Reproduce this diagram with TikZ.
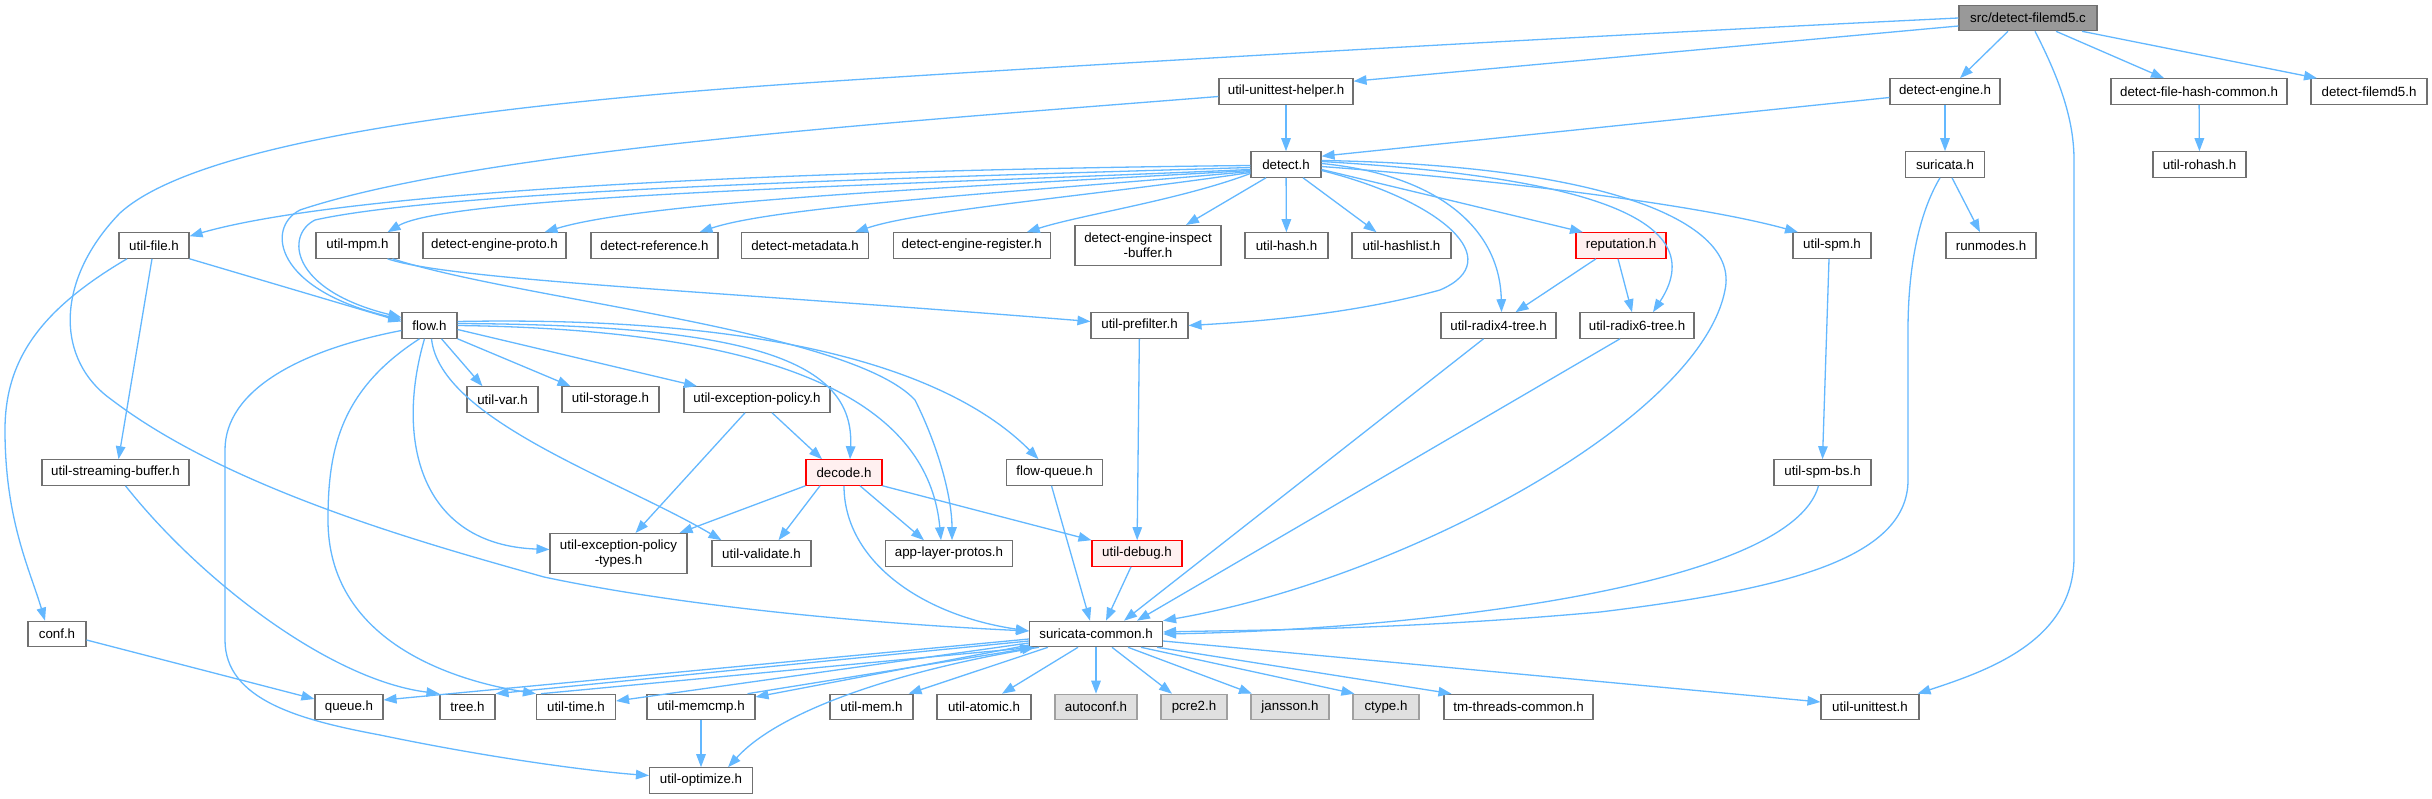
\documentclass[tikz,border=0pt]{standalone}
\usepackage{fontspec}
\setmainfont{Liberation Sans}
\usetikzlibrary{arrows.meta}
\definecolor{edgec}{HTML}{63B8FF}
\definecolor{bord}{HTML}{707070}
\definecolor{rootfill}{HTML}{999999}
\definecolor{extfill}{HTML}{E0E0E0}
\definecolor{extbord}{HTML}{A0A0A0}
\definecolor{redfill}{HTML}{FFF0F0}
\newcommand\nodefont{\fontsize{13.33}{15}\selectfont}
\begin{document}
\begin{tikzpicture}[x=1pt,y=-1pt,
  nd/.style={draw=bord, fill=white, line width=1.1pt, inner sep=0pt, minimum height=25.5pt, font=\nodefont, text=black},
  two/.style={minimum height=40pt, align=center},
  rootn/.style={fill=rootfill, draw=bord},
  extn/.style={fill=extfill, draw=extbord},
  redn/.style={fill=redfill, draw=red},
  e/.style={draw=edgec, line width=1.3pt, -{Triangle[length=13pt,width=9.5pt]}}]
\useasboundingbox[fill=white] (0,0) rectangle (2432,799);
% nodes
\node[nd,rootn,minimum width=138pt] (root) at (2028,18) {src/detect-filemd5.c};
\node[nd,minimum width=134pt] (uuh) at (1286,91.5) {util-unittest-helper.h};
\node[nd,minimum width=110pt] (deng) at (1945,91.5) {detect-engine.h};
\node[nd,minimum width=176pt] (dfhc) at (2199,91.5) {detect-file-hash-common.h};
\node[nd,minimum width=116pt] (dfmd5) at (2369,91.5) {detect-filemd5.h};
\node[nd,minimum width=70pt] (detect) at (1286,164.5) {detect.h};
\node[nd,minimum width=79pt] (suricata) at (1945,164.5) {suricata.h};
\node[nd,minimum width=93pt] (rohash) at (2199.5,164.5) {util-rohash.h};
\node[nd,minimum width=70pt] (ufile) at (154,245.5) {util-file.h};
\node[nd,minimum width=83pt] (mpm) at (357.5,245.5) {util-mpm.h};
\node[nd,minimum width=143pt] (dep) at (494.5,245.5) {detect-engine-proto.h};
\node[nd,minimum width=127pt] (dref) at (654.5,245.5) {detect-reference.h};
\node[nd,minimum width=127pt] (dmeta) at (805,245.5) {detect-metadata.h};
\node[nd,minimum width=157pt] (dreg) at (971.7,245.5) {detect-engine-register.h};
\node[nd,two,minimum width=146pt] (dinsp) at (1148,245.5) {detect-engine-inspect\\-buffer.h};
\node[nd,minimum width=83pt] (uhash) at (1286.5,245.5) {util-hash.h};
\node[nd,minimum width=99pt] (uhashlist) at (1401.5,245.5) {util-hashlist.h};
\node[nd,redn,minimum width=90pt] (rep) at (1621,245.5) {reputation.h};
\node[nd,minimum width=78pt] (uspm) at (1832,245.5) {util-spm.h};
\node[nd,minimum width=90pt] (runmodes) at (1991,245.5) {runmodes.h};
\node[nd,minimum width=55pt] (flow) at (429.5,325.5) {flow.h};
\node[nd,minimum width=97pt] (prefilter) at (1139.5,325.5) {util-prefilter.h};
\node[nd,minimum width=115pt] (radix4) at (1498.5,325.5) {util-radix4-tree.h};
\node[nd,minimum width=114pt] (radix6) at (1637,325.5) {util-radix6-tree.h};
\node[nd,minimum width=71pt] (uvar) at (502.5,399.5) {util-var.h};
\node[nd,minimum width=97pt] (ustorage) at (610.5,399.5) {util-storage.h};
\node[nd,minimum width=146pt] (uexc) at (757,399.5) {util-exception-policy.h};
\node[nd,minimum width=147pt] (usb) at (115.5,472.5) {util-streaming-buffer.h};
\node[nd,redn,minimum width=76pt] (decode) at (844,472.5) {decode.h};
\node[nd,minimum width=96pt] (fq) at (1054.5,472.5) {flow-queue.h};
\node[nd,minimum width=97pt] (spmbs) at (1822.5,472.5) {util-spm-bs.h};
\node[nd,two,minimum width=137pt] (uept) at (618.5,553.5) {util-exception-policy\\-types.h};
\node[nd,minimum width=99pt] (uval) at (761.5,553.5) {util-validate.h};
\node[nd,minimum width=127pt] (alp) at (949,553.5) {app-layer-protos.h};
\node[nd,redn,minimum width=90pt] (udebug) at (1137,553.5) {util-debug.h};
\node[nd,minimum width=58pt] (conf) at (57,634) {conf.h};
\node[nd,minimum width=133pt] (sc) at (1096,634) {suricata-common.h};
\node[nd,minimum width=68pt] (queue) at (349,707) {queue.h};
\node[nd,minimum width=55pt] (tree) at (467.5,707) {tree.h};
\node[nd,minimum width=79pt] (utime) at (576,707) {util-time.h};
\node[nd,minimum width=108pt] (memcmp) at (701,707) {util-memcmp.h};
\node[nd,minimum width=83pt] (umem) at (871.5,707) {util-mem.h};
\node[nd,minimum width=94pt] (uatomic) at (984,707) {util-atomic.h};
\node[nd,extn,minimum width=82pt] (autoconf) at (1096,707) {autoconf.h};
\node[nd,extn,minimum width=66pt] (pcre2) at (1194,707) {pcre2.h};
\node[nd,extn,minimum width=78pt] (jansson) at (1290,707) {jansson.h};
\node[nd,extn,minimum width=66pt] (ctype) at (1386,707) {ctype.h};
\node[nd,minimum width=149pt] (tmtc) at (1518.5,707) {tm-threads-common.h};
\node[nd,minimum width=98pt] (unittest) at (1870,707) {util-unittest.h};
\node[nd,minimum width=103pt] (uopt) at (701,780.5) {util-optimize.h};
% edges from root
\draw[e] (root.west) .. controls (1500,40) and (1000,70) .. (820,82)
  .. controls (500,103) and (200,140) .. (120,213)
  .. controls (55,280) and (55,360) .. (112,400)
  .. controls (230,490) and (430,545) .. (544,577)
  .. controls (700,610) and (900,625) .. ([yshift=3pt]sc.west);
\draw[e] ([yshift=-8pt]root.west) -- ([yshift=-3pt]uuh.north east);
\draw[e] ([xshift=-20pt]root.south) -- ([xshift=15pt]deng.north);
\draw[e] ([xshift=28pt]root.south) -- ([xshift=-35pt]dfhc.north);
\draw[e] ([xshift=54pt]root.south) -- ([xshift=-52pt]dfmd5.north);
\draw[e] ([xshift=7pt]root.south) .. controls (2060,80) and (2074,120) .. (2074,160) -- (2074,557)
  .. controls (2074,640) and (1990,670) .. ([xshift=-2pt]unittest.north east);
% util-unittest-helper.h
\draw[e] (uuh) -- (detect);
\draw[e] ([yshift=-5pt]uuh.west) .. controls (900,122) and (480,150) .. (300,210)
  .. controls (265,228) and (275,290) .. ([yshift=6pt]flow.west);
% detect.h
\draw[e] ([yshift=-3pt]detect.west) .. controls (900,178) and (450,190) .. (315,220)
  .. controls (285,235) and (290,290) .. ([yshift=8pt]flow.west);
\draw[e] ([yshift=-1pt]detect.west) .. controls (800,170) and (350,190) .. ([yshift=-4pt]ufile.north east);
\draw[e] ([yshift=-5pt]detect.west) .. controls (900,185) and (450,195) .. ([xshift=-12pt]mpm.north east);
\draw[e] ([yshift=-6pt]detect.west) .. controls (1000,185) and (650,200) .. ([xshift=50pt]dep.north);
\draw[e] ([yshift=-7pt]detect.west) .. controls (1050,190) and (780,205) .. ([xshift=45pt]dref.north);
\draw[e] ([yshift=-8pt]detect.west) .. controls (1100,195) and (920,210) .. ([xshift=50pt]dmeta.north);
\draw[e] ([yshift=-9pt]detect.west) .. controls (1180,200) and (1080,215) .. ([xshift=55pt]dreg.north);
\draw[e] ([xshift=-20pt]detect.south) -- ([xshift=38pt]dinsp.north);
\draw[e] (detect) -- (uhash);
\draw[e] ([xshift=17pt]detect.south) -- ([xshift=-25pt]uhashlist.north);
\draw[e] ([yshift=-5pt]detect.east) -- ([xshift=-38pt]rep.north);
\draw[e] ([yshift=-2pt]detect.east) .. controls (1500,180) and (1700,205) .. ([xshift=-34pt]uspm.north);
\draw[e] ([yshift=-6pt]detect.east) .. controls (1440,200) and (1510,260) .. (1440,290)
  .. controls (1350,315) and (1250,322) .. (prefilter.east);
\draw[e] ([yshift=1pt]detect.east) .. controls (1440,175) and (1500,230) .. ([xshift=3pt]radix4.north);
\draw[e] ([yshift=3pt]detect.east) .. controls (1550,175) and (1720,210) .. ([xshift=16pt]radix6.north);
\draw[e] ([yshift=4pt]detect.east) .. controls (1600,165) and (1740,220) .. (1725,290)
  .. controls (1700,420) and (1400,580) .. (sc.north east);
% detect-engine.h etc.
\draw[e] ([yshift=-6pt]deng.west) -- ([yshift=-5pt]detect.north east);
\draw[e] (deng) -- (suricata);
\draw[e] (dfhc) -- (rohash);
\draw[e] ([xshift=7pt]suricata.south) -- ([xshift=-11pt]runmodes.north);
\draw[e] ([xshift=-5pt]suricata.south) .. controls (1915,220) and (1908,280) .. (1908,330) -- (1908,480)
  .. controls (1908,560) and (1780,590) .. (1600,612)
  .. controls (1400,630) and (1250,630) .. ([yshift=2pt]sc.east);
\draw[e] ([xshift=-4pt]spmbs.south) .. controls (1790,590) and (1400,630) .. ([yshift=0pt]sc.east);
\draw[e] ([xshift=-3pt]uspm.south) -- (spmbs.north);
\draw[e] ([xshift=-25pt]rep.south) -- ([xshift=17pt]radix4.north);
\draw[e] ([xshift=-3pt]rep.south) -- ([xshift=-5pt]radix6.north);
\draw[e] ([xshift=-15pt]radix4.south) -- ([xshift=28pt]sc.north);
\draw[e] ([xshift=-17pt]radix6.south) -- ([xshift=41pt]sc.north);
\draw[e] (prefilter) -- (udebug);
\draw[e] ([xshift=-6pt]udebug.south) -- ([xshift=10pt]sc.north);
\draw[e] ([xshift=-3pt]fq.south) -- ([xshift=-6pt]sc.north);
% decode.h
\draw[e] (decode.south) .. controls (844,560) and (920,615) .. ([yshift=3pt]sc.west);
\draw[e] (decode.south west) -- ([xshift=-8pt]uept.north east);
\draw[e] ([xshift=-24pt]decode.south) -- ([xshift=17pt]uval.north);
\draw[e] ([xshift=16pt]decode.south) -- ([xshift=-25pt]alp.north);
\draw[e] (decode.south east) -- (udebug.north west);
\draw[e] ([xshift=-12pt]uexc.south) -- ([xshift=17pt]uept.north);
\draw[e] ([xshift=15pt]uexc.south) -- ([xshift=-22pt]decode.north);
% flow.h
\draw[e] ([xshift=12pt]flow.south) -- ([xshift=-20pt]uvar.north);
\draw[e] (flow.south east) -- ([xshift=-40pt]ustorage.north);
\draw[e] ([yshift=-4pt]flow.east) -- ([xshift=-60pt]uexc.north);
\draw[e] ([yshift=2pt]flow.east) .. controls (750,325) and (855,360) .. ([xshift=6pt]decode.north);
\draw[e] (flow.east) .. controls (820,330) and (930,420) .. ([xshift=-8pt]alp.north);
\draw[e] ([yshift=4pt]flow.east) .. controls (800,315) and (960,380) .. ([xshift=-16pt]fq.north);
\draw[e] ([xshift=-5pt]flow.south) .. controls (395,440) and (420,545) .. ([yshift=4pt]uept.west);
\draw[e] ([xshift=2pt]flow.south) .. controls (440,420) and (620,480) .. ([xshift=-40pt]uval.north);
\draw[e] ([xshift=-10pt]flow.south) .. controls (340,390) and (328,450) .. (328,520)
  .. controls (328,640) and (450,680) .. (utime.north west);
\draw[e] ([yshift=-5pt]flow.west) .. controls (300,350) and (225,390) .. (225,450) -- (225,640)
  .. controls (225,700) and (300,720) .. (380,735)
  .. controls (500,760) and (600,772) .. ([yshift=5pt]uopt.west);
% util-mpm.h
\draw[e] ([xshift=30pt]mpm.south) .. controls (450,280) and (700,290) .. ([yshift=4pt]prefilter.west);
\draw[e] ([xshift=35pt]mpm.south) .. controls (520,300) and (850,330) .. (915,400)
  .. controls (940,450) and (952,500) .. ([xshift=3pt]alp.north);
% util-file.h
\draw[e] (ufile.south east) -- ([yshift=4pt]flow.west);
\draw[e] ([xshift=-2pt]ufile.south) -- ([xshift=3pt]usb.north);
\draw[e] ([xshift=-27pt]ufile.south) .. controls (40,310) and (5,360) .. (5,430)
  .. controls (5,520) and (30,570) .. ([xshift=-12pt]conf.north);
\draw[e] ([xshift=10pt]usb.south) .. controls (200,580) and (330,680) .. (tree.north west);
\draw[e] ([yshift=-6pt]conf.east) -- ([yshift=8pt]queue.west);
% suricata-common.h
\draw[e] ([yshift=-5pt]sc.west) -- ([yshift=7pt]queue.east);
\draw[e] ([yshift=-7pt]sc.west) -- (tree.north east);
\draw[e] ([yshift=-9pt]sc.west) -- ([yshift=6pt]utime.east);
\draw[e] ([xshift=-35pt]utime.north) -- ([xshift=4pt]sc.south west);
\draw[e] ([yshift=-11pt]sc.west) -- ([yshift=10pt]memcmp.east);
\draw[e] ([xshift=-8pt]memcmp.north east) -- ([xshift=6pt]sc.south west);
\draw[e] ([xshift=10pt]sc.south west) .. controls (900,670) and (780,710) .. ([xshift=-25pt]uopt.north east);
\draw[e] (memcmp) -- (uopt);
\draw[e] ([xshift=-48pt]sc.south) -- ([xshift=-5pt]umem.north east);
\draw[e] ([xshift=-18pt]sc.south) -- ([xshift=18pt]uatomic.north);
\draw[e] (sc) -- (autoconf);
\draw[e] ([xshift=16pt]sc.south) -- ([xshift=-22pt]pcre2.north);
\draw[e] ([xshift=32pt]sc.south) -- ([xshift=-38pt]jansson.north);
\draw[e] ([xshift=45pt]sc.south) -- ([xshift=2pt]ctype.north west);
\draw[e] ([xshift=-6pt]sc.south east) -- ([xshift=8pt]tmtc.north west);
\draw[e] ([yshift=-7pt]sc.east) -- ([yshift=5pt]unittest.west);
\end{tikzpicture}
\end{document}
